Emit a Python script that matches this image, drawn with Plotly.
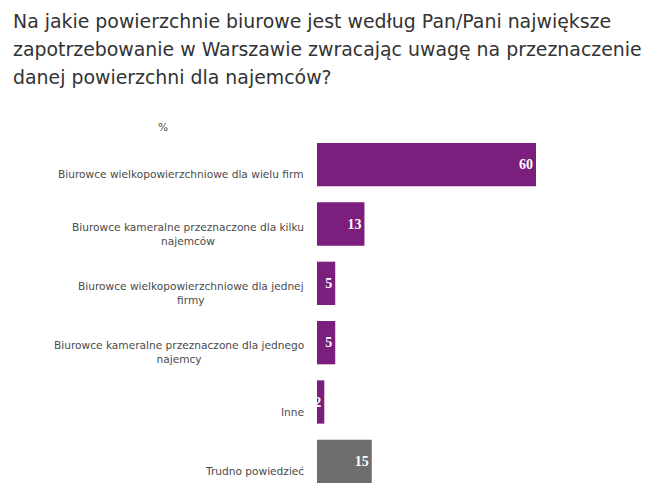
import plotly.graph_objects as go

categories = [
    "Biurowce wielkopowierzchniowe dla wielu firm",
    "Biurowce kameralne przeznaczone dla kilku<br>najemców",
    "Biurowce wielkopowierzchniowe dla jednej<br>firmy",
    "Biurowce kameralne przeznaczone dla jednego<br>najemcy",
    "Inne",
    "Trudno powiedzieć",
]
values = [60, 13, 5, 5, 2, 15]
colors = ["#7b1e7e", "#7b1e7e", "#7b1e7e", "#7b1e7e", "#7b1e7e", "#6e6e6e"]
title_lines = [
    "Na jakie powierzchnie biurowe jest według Pan/Pani największe",
    "zapotrzebowanie w Warszawie zwracając uwagę na przeznaczenie",
    "danej powierzchni dla najemców?",
]

# page body has an 8px margin, compensate
OFF = 8
L, R, T, B = 317 - OFF, 128 + OFF, 135 - OFF, 7 + OFF
W, H = 664, 498
PW, PH = W - L - R, H - T - B

def px_x(px):
    return (px - OFF - L) / PW

def px_y(py):
    return 1 - (py - OFF - T) / PH

ypos = list(range(len(categories)))

fig = go.Figure()
fig.add_trace(go.Bar(
    x=values, y=ypos, orientation="h",
    marker=dict(color=colors, line=dict(width=0)),
    width=0.73,
    text=[str(v) for v in values],
    textposition="inside", insidetextanchor="end",
    constraintext="none",
    textfont=dict(family="Liberation Serif", size=14, color="white", weight="bold"),
    cliponaxis=False,
    hoverinfo="skip",
))

for i, c in enumerate(categories):
    fig.add_annotation(
        x=px_x(306), xref="paper", y=i, yref="y", yshift=-9.5,
        text=c, showarrow=False, xanchor="right", yanchor="middle", align="center",
        font=dict(family="DejaVu Sans", size=10.6, color="#4a4a4a"),
    )

fig.add_annotation(x=px_x(163), xref="paper", y=px_y(127), yref="paper", text="%",
                   showarrow=False, xanchor="center", yanchor="middle",
                   font=dict(family="DejaVu Sans", size=10.6, color="#4a4a4a"))

for k, line in enumerate(title_lines):
    fig.add_annotation(x=px_x(11), xref="paper", y=px_y(21 + 28 * k), yref="paper",
                       text=line, showarrow=False, xanchor="left", yanchor="middle",
                       font=dict(family="DejaVu Sans", size=18.9, color="#333333"))

fig.update_layout(
    width=W, height=H,
    margin=dict(l=L, r=R, t=T, b=B),
    paper_bgcolor="white", plot_bgcolor="white",
    showlegend=False,
    xaxis=dict(range=[0, 60], visible=False, fixedrange=True),
    yaxis=dict(range=[5.5, -0.5], visible=False, fixedrange=True),
)

fig.write_html("out.html")
